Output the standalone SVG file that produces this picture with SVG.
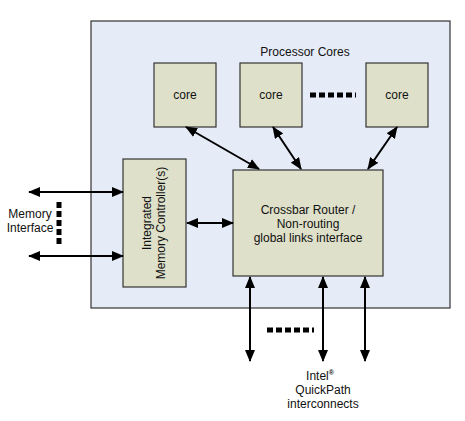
<svg xmlns="http://www.w3.org/2000/svg" width="465" height="421" viewBox="0 0 465 421">
<style>
.box{fill:#dee0c9;stroke:#333;stroke-width:1.2}
.t{font-family:"Liberation Sans",Arial,sans-serif;font-size:12px;fill:#111;text-anchor:middle}
.d{stroke:#000;stroke-width:5;stroke-dasharray:6,3;fill:none}
</style>
<defs>
<marker id="a2" viewBox="0 0 12 10" refX="11" refY="5" markerWidth="12" markerHeight="10" orient="auto-start-reverse" markerUnits="userSpaceOnUse">
<path d="M0,0 L12,5 L0,10 z" fill="#000"/>
</marker>
</defs>
<rect x="0" y="0" width="465" height="421" fill="#fff"/>
<g id="chip">
<rect x="91" y="21" width="359" height="287" fill="#e6ecf7" stroke="#333" stroke-width="1.2"/>
<text class="t" x="305" y="56">Processor Cores</text>
</g>
<g id="core1"><rect class="box" x="154" y="63" width="62" height="64"/><text class="t" x="185" y="99">core</text></g>
<g id="core2"><rect class="box" x="240" y="63" width="62" height="64"/><text class="t" x="271" y="99">core</text></g>
<g id="core3"><rect class="box" x="366" y="63" width="62" height="64"/><text class="t" x="397" y="99">core</text></g>
<g id="imc"><rect class="box" x="123" y="159" width="63" height="128"/>
<text class="t" transform="translate(155,223) rotate(-90)"><tspan x="0" y="-4">Integrated</tspan><tspan x="0" y="10">Memory Controller(s)</tspan></text></g>
<g id="xbar"><rect class="box" x="233" y="170" width="150" height="106"/>
<text class="t" x="308" y="214">Crossbar Router /</text>
<text class="t" x="308" y="228">Non-routing</text>
<text class="t" x="308" y="242">global links interface</text></g>
<g id="mem"><text class="t" x="30" y="218">Memory</text><text class="t" x="30" y="232">Interface</text></g>
<g id="qpi"><text class="t" x="320" y="380">Intel<tspan font-size="7" font-weight="bold" dy="-5">®</tspan></text>
<text class="t" x="323" y="394">QuickPath</text><text class="t" x="323" y="408">interconnects</text></g>
<g id="connectors" style="stroke:#000;stroke-width:2;fill:none">
<path d="M29,192 H123" marker-start="url(#a2)" marker-end="url(#a2)"/>
<path d="M29,256 H123" marker-start="url(#a2)" marker-end="url(#a2)"/>
<path d="M187,223 H233" marker-start="url(#a2)" marker-end="url(#a2)"/>
<path d="M186,127 L259,169" marker-start="url(#a2)" marker-end="url(#a2)"/>
<path d="M273,127 L301,169" marker-start="url(#a2)" marker-end="url(#a2)"/>
<path d="M397,127 L368,169" marker-start="url(#a2)" marker-end="url(#a2)"/>
<path d="M250,277 V361" marker-start="url(#a2)" marker-end="url(#a2)"/>
<path d="M323,277 V361" marker-start="url(#a2)" marker-end="url(#a2)"/>
<path d="M365,277 V361" marker-start="url(#a2)" marker-end="url(#a2)"/>
<path class="d" d="M59,202 V246"/>
<path class="d" d="M310,95 H356"/>
<path class="d" d="M267,330 H314"/>
</g>
</svg>
